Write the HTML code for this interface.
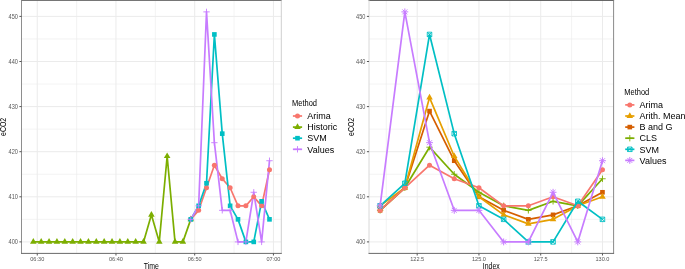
<!DOCTYPE html>
<html><head><meta charset="utf-8"><style>
html,body{margin:0;padding:0;background:#fff;}
body{width:685px;height:269px;overflow:hidden;}
svg{display:block;font-family:"Liberation Sans",sans-serif;will-change:transform;}
</style></head><body>
<svg width="685" height="269" viewBox="0 0 685 269">
<rect width="685" height="269" fill="#fff"/>
<g>
<line x1="21.5" x2="281.3" y1="219.35" y2="219.35" stroke="#EBEBEB" stroke-width="0.6"/>
<line x1="21.5" x2="281.3" y1="174.25" y2="174.25" stroke="#EBEBEB" stroke-width="0.6"/>
<line x1="21.5" x2="281.3" y1="129.15" y2="129.15" stroke="#EBEBEB" stroke-width="0.6"/>
<line x1="21.5" x2="281.3" y1="84.05" y2="84.05" stroke="#EBEBEB" stroke-width="0.6"/>
<line x1="21.5" x2="281.3" y1="38.95" y2="38.95" stroke="#EBEBEB" stroke-width="0.6"/>
<line x1="76.61" x2="76.61" y1="0.4" y2="253.4" stroke="#EBEBEB" stroke-width="0.6"/>
<line x1="155.34" x2="155.34" y1="0.4" y2="253.4" stroke="#EBEBEB" stroke-width="0.6"/>
<line x1="234.06" x2="234.06" y1="0.4" y2="253.4" stroke="#EBEBEB" stroke-width="0.6"/>
<line x1="21.5" x2="281.3" y1="241.9" y2="241.9" stroke="#EBEBEB" stroke-width="1"/>
<line x1="21.5" x2="281.3" y1="196.8" y2="196.8" stroke="#EBEBEB" stroke-width="1"/>
<line x1="21.5" x2="281.3" y1="151.7" y2="151.7" stroke="#EBEBEB" stroke-width="1"/>
<line x1="21.5" x2="281.3" y1="106.6" y2="106.6" stroke="#EBEBEB" stroke-width="1"/>
<line x1="21.5" x2="281.3" y1="61.5" y2="61.5" stroke="#EBEBEB" stroke-width="1"/>
<line x1="21.5" x2="281.3" y1="16.4" y2="16.4" stroke="#EBEBEB" stroke-width="1"/>
<line x1="37.25" x2="37.25" y1="0.4" y2="253.4" stroke="#EBEBEB" stroke-width="1"/>
<line x1="115.97" x2="115.97" y1="0.4" y2="253.4" stroke="#EBEBEB" stroke-width="1"/>
<line x1="194.7" x2="194.7" y1="0.4" y2="253.4" stroke="#EBEBEB" stroke-width="1"/>
<line x1="273.43" x2="273.43" y1="0.4" y2="253.4" stroke="#EBEBEB" stroke-width="1"/>
<polyline points="190.76,219.35 198.64,210.33 206.51,187.78 214.38,165.23 222.25,178.76 230.13,187.78 238,205.82 245.87,205.82 253.75,196.8 261.62,205.82 269.49,169.74" fill="none" stroke="#F8766D" stroke-width="1.7" stroke-linejoin="round" stroke-linecap="butt"/>
<polyline points="33.31,241.9 41.18,241.9 49.05,241.9 56.93,241.9 64.8,241.9 72.67,241.9 80.55,241.9 88.42,241.9 96.29,241.9 104.16,241.9 112.04,241.9 119.91,241.9 127.78,241.9 135.65,241.9 143.53,241.9 151.4,214.84 159.27,241.9 167.15,156.21 175.02,241.9 182.89,241.9 190.76,219.35" fill="none" stroke="#7CAE00" stroke-width="1.7" stroke-linejoin="round" stroke-linecap="butt"/>
<polyline points="190.76,219.35 198.64,205.82 206.51,183.27 214.38,34.44 222.25,133.66 230.13,205.82 238,219.35 245.87,241.9 253.75,241.9 261.62,201.31 269.49,219.35" fill="none" stroke="#00BFC4" stroke-width="1.7" stroke-linejoin="round" stroke-linecap="butt"/>
<polyline points="190.76,219.35 198.64,205.82 206.51,11.89 214.38,142.68 222.25,210.33 230.13,210.33 238,241.9 245.87,241.9 253.75,192.29 261.62,241.9 269.49,160.72" fill="none" stroke="#C77CFF" stroke-width="1.7" stroke-linejoin="round" stroke-linecap="butt"/>
<circle cx="190.76" cy="219.35" r="2.52" fill="#F8766D"/>
<circle cx="198.64" cy="210.33" r="2.52" fill="#F8766D"/>
<circle cx="206.51" cy="187.78" r="2.52" fill="#F8766D"/>
<circle cx="214.38" cy="165.23" r="2.52" fill="#F8766D"/>
<circle cx="222.25" cy="178.76" r="2.52" fill="#F8766D"/>
<circle cx="230.13" cy="187.78" r="2.52" fill="#F8766D"/>
<circle cx="238" cy="205.82" r="2.52" fill="#F8766D"/>
<circle cx="245.87" cy="205.82" r="2.52" fill="#F8766D"/>
<circle cx="253.75" cy="196.8" r="2.52" fill="#F8766D"/>
<circle cx="261.62" cy="205.82" r="2.52" fill="#F8766D"/>
<circle cx="269.49" cy="169.74" r="2.52" fill="#F8766D"/>
<polygon points="33.31,238.12 36.58,243.79 30.04,243.79" fill="#7CAE00"/>
<polygon points="41.18,238.12 44.45,243.79 37.91,243.79" fill="#7CAE00"/>
<polygon points="49.05,238.12 52.33,243.79 45.78,243.79" fill="#7CAE00"/>
<polygon points="56.93,238.12 60.2,243.79 53.65,243.79" fill="#7CAE00"/>
<polygon points="64.8,238.12 68.07,243.79 61.53,243.79" fill="#7CAE00"/>
<polygon points="72.67,238.12 75.95,243.79 69.4,243.79" fill="#7CAE00"/>
<polygon points="80.55,238.12 83.82,243.79 77.27,243.79" fill="#7CAE00"/>
<polygon points="88.42,238.12 91.69,243.79 85.15,243.79" fill="#7CAE00"/>
<polygon points="96.29,238.12 99.56,243.79 93.02,243.79" fill="#7CAE00"/>
<polygon points="104.16,238.12 107.44,243.79 100.89,243.79" fill="#7CAE00"/>
<polygon points="112.04,238.12 115.31,243.79 108.76,243.79" fill="#7CAE00"/>
<polygon points="119.91,238.12 123.18,243.79 116.64,243.79" fill="#7CAE00"/>
<polygon points="127.78,238.12 131.05,243.79 124.51,243.79" fill="#7CAE00"/>
<polygon points="135.65,238.12 138.93,243.79 132.38,243.79" fill="#7CAE00"/>
<polygon points="143.53,238.12 146.8,243.79 140.25,243.79" fill="#7CAE00"/>
<polygon points="151.4,211.06 154.67,216.73 148.13,216.73" fill="#7CAE00"/>
<polygon points="159.27,238.12 162.55,243.79 156,243.79" fill="#7CAE00"/>
<polygon points="167.15,152.43 170.42,158.1 163.87,158.1" fill="#7CAE00"/>
<polygon points="175.02,238.12 178.29,243.79 171.75,243.79" fill="#7CAE00"/>
<polygon points="182.89,238.12 186.16,243.79 179.62,243.79" fill="#7CAE00"/>
<polygon points="190.76,215.57 194.04,221.24 187.49,221.24" fill="#7CAE00"/>
<rect x="188.45" y="217.03" width="4.63" height="4.63" fill="#00BFC4"/>
<rect x="196.32" y="203.5" width="4.63" height="4.63" fill="#00BFC4"/>
<rect x="204.19" y="180.95" width="4.63" height="4.63" fill="#00BFC4"/>
<rect x="212.06" y="32.12" width="4.63" height="4.63" fill="#00BFC4"/>
<rect x="219.94" y="131.34" width="4.63" height="4.63" fill="#00BFC4"/>
<rect x="227.81" y="203.5" width="4.63" height="4.63" fill="#00BFC4"/>
<rect x="235.68" y="217.03" width="4.63" height="4.63" fill="#00BFC4"/>
<rect x="243.56" y="239.58" width="4.63" height="4.63" fill="#00BFC4"/>
<rect x="251.43" y="239.58" width="4.63" height="4.63" fill="#00BFC4"/>
<rect x="259.3" y="198.99" width="4.63" height="4.63" fill="#00BFC4"/>
<rect x="267.17" y="217.03" width="4.63" height="4.63" fill="#00BFC4"/>
<path d="M187.58 219.35H193.95M190.76 216.17V222.53" stroke="#C77CFF" stroke-width="0.9" fill="none"/>
<path d="M195.45 205.82H201.82M198.64 202.64V209" stroke="#C77CFF" stroke-width="0.9" fill="none"/>
<path d="M203.33 11.89H209.69M206.51 8.71V15.07" stroke="#C77CFF" stroke-width="0.9" fill="none"/>
<path d="M211.2 142.68H217.56M214.38 139.5V145.86" stroke="#C77CFF" stroke-width="0.9" fill="none"/>
<path d="M219.07 210.33H225.44M222.25 207.15V213.51" stroke="#C77CFF" stroke-width="0.9" fill="none"/>
<path d="M226.95 210.33H233.31M230.13 207.15V213.51" stroke="#C77CFF" stroke-width="0.9" fill="none"/>
<path d="M234.82 241.9H241.18M238 238.72V245.08" stroke="#C77CFF" stroke-width="0.9" fill="none"/>
<path d="M242.69 241.9H249.05M245.87 238.72V245.08" stroke="#C77CFF" stroke-width="0.9" fill="none"/>
<path d="M250.56 192.29H256.93M253.75 189.11V195.47" stroke="#C77CFF" stroke-width="0.9" fill="none"/>
<path d="M258.44 241.9H264.8M261.62 238.72V245.08" stroke="#C77CFF" stroke-width="0.9" fill="none"/>
<path d="M266.31 160.72H272.67M269.49 157.54V163.9" stroke="#C77CFF" stroke-width="0.9" fill="none"/>
<line x1="21" x2="281.8" y1="0.4" y2="0.4" stroke="#666666" stroke-width="1"/>
<line x1="281.3" x2="281.3" y1="0.4" y2="253.4" stroke="#cfcfcf" stroke-width="1"/>
<line x1="21.5" x2="21.5" y1="0.4" y2="253.4" stroke="#8e8e8e" stroke-width="1"/>
<line x1="21" x2="281.8" y1="253.4" y2="253.4" stroke="#6a6a6a" stroke-width="1"/>
<line x1="19.4" x2="21.5" y1="241.9" y2="241.9" stroke="#555555" stroke-width="1"/>
<text transform="translate(17.9 244.05) scale(1 1.14)" text-anchor="end" font-size="5.6" fill="#555555">400</text>
<line x1="19.4" x2="21.5" y1="196.8" y2="196.8" stroke="#555555" stroke-width="1"/>
<text transform="translate(17.9 198.95) scale(1 1.14)" text-anchor="end" font-size="5.6" fill="#555555">410</text>
<line x1="19.4" x2="21.5" y1="151.7" y2="151.7" stroke="#555555" stroke-width="1"/>
<text transform="translate(17.9 153.85) scale(1 1.14)" text-anchor="end" font-size="5.6" fill="#555555">420</text>
<line x1="19.4" x2="21.5" y1="106.6" y2="106.6" stroke="#555555" stroke-width="1"/>
<text transform="translate(17.9 108.75) scale(1 1.14)" text-anchor="end" font-size="5.6" fill="#555555">430</text>
<line x1="19.4" x2="21.5" y1="61.5" y2="61.5" stroke="#555555" stroke-width="1"/>
<text transform="translate(17.9 63.65) scale(1 1.14)" text-anchor="end" font-size="5.6" fill="#555555">440</text>
<line x1="19.4" x2="21.5" y1="16.4" y2="16.4" stroke="#555555" stroke-width="1"/>
<text transform="translate(17.9 18.55) scale(1 1.14)" text-anchor="end" font-size="5.6" fill="#555555">450</text>
<line x1="37.25" x2="37.25" y1="253.4" y2="255.5" stroke="#555555" stroke-width="1"/>
<text transform="translate(37.25 261.1) scale(1 1.03)" text-anchor="middle" font-size="5.6" fill="#555555">06:30</text>
<line x1="115.97" x2="115.97" y1="253.4" y2="255.5" stroke="#555555" stroke-width="1"/>
<text transform="translate(115.97 261.1) scale(1 1.03)" text-anchor="middle" font-size="5.6" fill="#555555">06:40</text>
<line x1="194.7" x2="194.7" y1="253.4" y2="255.5" stroke="#555555" stroke-width="1"/>
<text transform="translate(194.7 261.1) scale(1 1.03)" text-anchor="middle" font-size="5.6" fill="#555555">06:50</text>
<line x1="273.43" x2="273.43" y1="253.4" y2="255.5" stroke="#555555" stroke-width="1"/>
<text transform="translate(273.43 261.1) scale(1 1.03)" text-anchor="middle" font-size="5.6" fill="#555555">07:00</text>
<text transform="translate(151.4 268.8) scale(1 1.2)" text-anchor="middle" font-size="6.9" fill="#000">Time</text>
<text transform="translate(5.6 126.9) rotate(-90) scale(1 1.2)" text-anchor="middle" font-size="6.9" fill="#000">eCO2</text>
<text transform="translate(292 105.6) scale(1 1.1)" font-size="7.5" fill="#000">Method</text>
<line x1="292.9" x2="302.1" y1="116" y2="116" stroke="#F8766D" stroke-width="1.7"/>
<circle cx="297.5" cy="116" r="2.52" fill="#F8766D"/>
<text transform="translate(307.3 119.2) scale(1 1.1)" font-size="9" fill="#000">Arima</text>
<line x1="292.9" x2="302.1" y1="127.1" y2="127.1" stroke="#7CAE00" stroke-width="1.7"/>
<polygon points="297.5,123.32 300.77,128.99 294.23,128.99" fill="#7CAE00"/>
<text transform="translate(307.3 130.3) scale(1 1.1)" font-size="9" fill="#000">Historic</text>
<line x1="292.9" x2="302.1" y1="138.2" y2="138.2" stroke="#00BFC4" stroke-width="1.7"/>
<rect x="295.18" y="135.88" width="4.63" height="4.63" fill="#00BFC4"/>
<text transform="translate(307.3 141.4) scale(1 1.1)" font-size="9" fill="#000">SVM</text>
<line x1="292.9" x2="302.1" y1="149.3" y2="149.3" stroke="#C77CFF" stroke-width="1.7"/>
<path d="M294.32 149.3H300.68M297.5 146.12V152.48" stroke="#C77CFF" stroke-width="0.9" fill="none"/>
<text transform="translate(307.3 152.5) scale(1 1.1)" font-size="9" fill="#000">Values</text>
<line x1="369" x2="613.6" y1="219.35" y2="219.35" stroke="#EBEBEB" stroke-width="0.6"/>
<line x1="369" x2="613.6" y1="174.25" y2="174.25" stroke="#EBEBEB" stroke-width="0.6"/>
<line x1="369" x2="613.6" y1="129.15" y2="129.15" stroke="#EBEBEB" stroke-width="0.6"/>
<line x1="369" x2="613.6" y1="84.05" y2="84.05" stroke="#EBEBEB" stroke-width="0.6"/>
<line x1="369" x2="613.6" y1="38.95" y2="38.95" stroke="#EBEBEB" stroke-width="0.6"/>
<line x1="386.29" x2="386.29" y1="0.4" y2="253.4" stroke="#EBEBEB" stroke-width="0.6"/>
<line x1="448.06" x2="448.06" y1="0.4" y2="253.4" stroke="#EBEBEB" stroke-width="0.6"/>
<line x1="509.83" x2="509.83" y1="0.4" y2="253.4" stroke="#EBEBEB" stroke-width="0.6"/>
<line x1="571.6" x2="571.6" y1="0.4" y2="253.4" stroke="#EBEBEB" stroke-width="0.6"/>
<line x1="369" x2="613.6" y1="241.9" y2="241.9" stroke="#EBEBEB" stroke-width="1"/>
<line x1="369" x2="613.6" y1="196.8" y2="196.8" stroke="#EBEBEB" stroke-width="1"/>
<line x1="369" x2="613.6" y1="151.7" y2="151.7" stroke="#EBEBEB" stroke-width="1"/>
<line x1="369" x2="613.6" y1="106.6" y2="106.6" stroke="#EBEBEB" stroke-width="1"/>
<line x1="369" x2="613.6" y1="61.5" y2="61.5" stroke="#EBEBEB" stroke-width="1"/>
<line x1="369" x2="613.6" y1="16.4" y2="16.4" stroke="#EBEBEB" stroke-width="1"/>
<line x1="417.18" x2="417.18" y1="0.4" y2="253.4" stroke="#EBEBEB" stroke-width="1"/>
<line x1="478.95" x2="478.95" y1="0.4" y2="253.4" stroke="#EBEBEB" stroke-width="1"/>
<line x1="540.71" x2="540.71" y1="0.4" y2="253.4" stroke="#EBEBEB" stroke-width="1"/>
<line x1="602.48" x2="602.48" y1="0.4" y2="253.4" stroke="#EBEBEB" stroke-width="1"/>
<polyline points="380.12,210.33 404.83,187.78 429.53,111.11 454.24,160.72 478.95,196.8 503.65,210.33 528.36,219.35 553.07,214.84 577.77,205.82 602.48,192.29" fill="none" stroke="#D55E00" stroke-width="1.7" stroke-linejoin="round" stroke-linecap="butt"/>
<rect x="377.8" y="208.01" width="4.63" height="4.63" fill="#D55E00"/>
<rect x="402.51" y="185.46" width="4.63" height="4.63" fill="#D55E00"/>
<rect x="427.21" y="108.79" width="4.63" height="4.63" fill="#D55E00"/>
<rect x="451.92" y="158.4" width="4.63" height="4.63" fill="#D55E00"/>
<rect x="476.63" y="194.48" width="4.63" height="4.63" fill="#D55E00"/>
<rect x="501.34" y="208.01" width="4.63" height="4.63" fill="#D55E00"/>
<rect x="526.04" y="217.03" width="4.63" height="4.63" fill="#D55E00"/>
<rect x="550.75" y="212.52" width="4.63" height="4.63" fill="#D55E00"/>
<rect x="575.46" y="203.5" width="4.63" height="4.63" fill="#D55E00"/>
<rect x="600.16" y="189.97" width="4.63" height="4.63" fill="#D55E00"/>
<polyline points="380.12,205.82 404.83,187.78 429.53,97.58 454.24,156.21 478.95,196.8 503.65,214.84 528.36,223.86 553.07,219.35 577.77,205.82 602.48,196.8" fill="none" stroke="#E69F00" stroke-width="1.7" stroke-linejoin="round" stroke-linecap="butt"/>
<polygon points="380.12,202.04 383.39,207.71 376.85,207.71" fill="#E69F00"/>
<polygon points="404.83,184 408.1,189.67 401.55,189.67" fill="#E69F00"/>
<polygon points="429.53,93.8 432.81,99.47 426.26,99.47" fill="#E69F00"/>
<polygon points="454.24,152.43 457.51,158.1 450.97,158.1" fill="#E69F00"/>
<polygon points="478.95,193.02 482.22,198.69 475.67,198.69" fill="#E69F00"/>
<polygon points="503.65,211.06 506.93,216.73 500.38,216.73" fill="#E69F00"/>
<polygon points="528.36,220.08 531.63,225.75 525.09,225.75" fill="#E69F00"/>
<polygon points="553.07,215.57 556.34,221.24 549.79,221.24" fill="#E69F00"/>
<polygon points="577.77,202.04 581.05,207.71 574.5,207.71" fill="#E69F00"/>
<polygon points="602.48,193.02 605.75,198.69 599.21,198.69" fill="#E69F00"/>
<polyline points="380.12,210.33 404.83,187.78 429.53,147.19 454.24,174.25 478.95,192.29 503.65,205.82 528.36,210.33 553.07,201.31 577.77,205.82 602.48,178.76" fill="none" stroke="#7CAE00" stroke-width="1.7" stroke-linejoin="round" stroke-linecap="butt"/>
<path d="M376.94 210.33H383.3M380.12 207.15V213.51" stroke="#7CAE00" stroke-width="0.9" fill="none"/>
<path d="M401.64 187.78H408.01M404.83 184.6V190.96" stroke="#7CAE00" stroke-width="0.9" fill="none"/>
<path d="M426.35 147.19H432.71M429.53 144.01V150.37" stroke="#7CAE00" stroke-width="0.9" fill="none"/>
<path d="M451.06 174.25H457.42M454.24 171.07V177.43" stroke="#7CAE00" stroke-width="0.9" fill="none"/>
<path d="M475.76 192.29H482.13M478.95 189.11V195.47" stroke="#7CAE00" stroke-width="0.9" fill="none"/>
<path d="M500.47 205.82H506.84M503.65 202.64V209" stroke="#7CAE00" stroke-width="0.9" fill="none"/>
<path d="M525.18 210.33H531.54M528.36 207.15V213.51" stroke="#7CAE00" stroke-width="0.9" fill="none"/>
<path d="M549.89 201.31H556.25M553.07 198.13V204.49" stroke="#7CAE00" stroke-width="0.9" fill="none"/>
<path d="M574.59 205.82H580.96M577.77 202.64V209" stroke="#7CAE00" stroke-width="0.9" fill="none"/>
<path d="M599.3 178.76H605.66M602.48 175.58V181.94" stroke="#7CAE00" stroke-width="0.9" fill="none"/>
<polyline points="380.12,210.33 404.83,187.78 429.53,165.23 454.24,178.76 478.95,187.78 503.65,205.82 528.36,205.82 553.07,196.8 577.77,205.82 602.48,169.74" fill="none" stroke="#F8766D" stroke-width="1.7" stroke-linejoin="round" stroke-linecap="butt"/>
<circle cx="380.12" cy="210.33" r="2.52" fill="#F8766D"/>
<circle cx="404.83" cy="187.78" r="2.52" fill="#F8766D"/>
<circle cx="429.53" cy="165.23" r="2.52" fill="#F8766D"/>
<circle cx="454.24" cy="178.76" r="2.52" fill="#F8766D"/>
<circle cx="478.95" cy="187.78" r="2.52" fill="#F8766D"/>
<circle cx="503.65" cy="205.82" r="2.52" fill="#F8766D"/>
<circle cx="528.36" cy="205.82" r="2.52" fill="#F8766D"/>
<circle cx="553.07" cy="196.8" r="2.52" fill="#F8766D"/>
<circle cx="577.77" cy="205.82" r="2.52" fill="#F8766D"/>
<circle cx="602.48" cy="169.74" r="2.52" fill="#F8766D"/>
<polyline points="380.12,205.82 404.83,183.27 429.53,34.44 454.24,133.66 478.95,205.82 503.65,219.35 528.36,241.9 553.07,241.9 577.77,201.31 602.48,219.35" fill="none" stroke="#00BFC4" stroke-width="1.7" stroke-linejoin="round" stroke-linecap="butt"/>
<path d="M377.87 203.57h4.5v4.5h-4.5ZM377.87 203.57L382.37 208.07M377.87 208.07L382.37 203.57" stroke="#00BFC4" stroke-width="0.9" fill="none"/>
<path d="M402.58 181.02h4.5v4.5h-4.5ZM402.58 181.02L407.08 185.52M402.58 185.52L407.08 181.02" stroke="#00BFC4" stroke-width="0.9" fill="none"/>
<path d="M427.28 32.19h4.5v4.5h-4.5ZM427.28 32.19L431.78 36.69M427.28 36.69L431.78 32.19" stroke="#00BFC4" stroke-width="0.9" fill="none"/>
<path d="M451.99 131.41h4.5v4.5h-4.5ZM451.99 131.41L456.49 135.91M451.99 135.91L456.49 131.41" stroke="#00BFC4" stroke-width="0.9" fill="none"/>
<path d="M476.7 203.57h4.5v4.5h-4.5ZM476.7 203.57L481.2 208.07M476.7 208.07L481.2 203.57" stroke="#00BFC4" stroke-width="0.9" fill="none"/>
<path d="M501.4 217.1h4.5v4.5h-4.5ZM501.4 217.1L505.9 221.6M501.4 221.6L505.9 217.1" stroke="#00BFC4" stroke-width="0.9" fill="none"/>
<path d="M526.11 239.65h4.5v4.5h-4.5ZM526.11 239.65L530.61 244.15M526.11 244.15L530.61 239.65" stroke="#00BFC4" stroke-width="0.9" fill="none"/>
<path d="M550.82 239.65h4.5v4.5h-4.5ZM550.82 239.65L555.32 244.15M550.82 244.15L555.32 239.65" stroke="#00BFC4" stroke-width="0.9" fill="none"/>
<path d="M575.52 199.06h4.5v4.5h-4.5ZM575.52 199.06L580.02 203.56M575.52 203.56L580.02 199.06" stroke="#00BFC4" stroke-width="0.9" fill="none"/>
<path d="M600.23 217.1h4.5v4.5h-4.5ZM600.23 217.1L604.73 221.6M600.23 221.6L604.73 217.1" stroke="#00BFC4" stroke-width="0.9" fill="none"/>
<polyline points="380.12,205.82 404.83,11.89 429.53,142.68 454.24,210.33 478.95,210.33 503.65,241.9 528.36,241.9 553.07,192.29 577.77,241.9 602.48,160.72" fill="none" stroke="#C77CFF" stroke-width="1.7" stroke-linejoin="round" stroke-linecap="butt"/>
<path d="M377.69 203.39L382.55 208.25M377.69 208.25L382.55 203.39M376.68 205.82H383.55M380.12 202.38V209.26" stroke="#C77CFF" stroke-width="1" fill="none"/>
<path d="M402.4 9.46L407.26 14.32M402.4 14.32L407.26 9.46M401.39 11.89H408.26M404.83 8.45V15.33" stroke="#C77CFF" stroke-width="1" fill="none"/>
<path d="M427.1 140.25L431.96 145.11M427.1 145.11L431.96 140.25M426.1 142.68H432.97M429.53 139.24V146.12" stroke="#C77CFF" stroke-width="1" fill="none"/>
<path d="M451.81 207.9L456.67 212.76M451.81 212.76L456.67 207.9M450.8 210.33H457.68M454.24 206.89V213.77" stroke="#C77CFF" stroke-width="1" fill="none"/>
<path d="M476.52 207.9L481.38 212.76M476.52 212.76L481.38 207.9M475.51 210.33H482.38M478.95 206.89V213.77" stroke="#C77CFF" stroke-width="1" fill="none"/>
<path d="M501.22 239.47L506.08 244.33M501.22 244.33L506.08 239.47M500.22 241.9H507.09M503.65 238.46V245.34" stroke="#C77CFF" stroke-width="1" fill="none"/>
<path d="M525.93 239.47L530.79 244.33M525.93 244.33L530.79 239.47M524.92 241.9H531.8M528.36 238.46V245.34" stroke="#C77CFF" stroke-width="1" fill="none"/>
<path d="M550.64 189.86L555.5 194.72M550.64 194.72L555.5 189.86M549.63 192.29H556.5M553.07 188.85V195.73" stroke="#C77CFF" stroke-width="1" fill="none"/>
<path d="M575.34 239.47L580.2 244.33M575.34 244.33L580.2 239.47M574.34 241.9H581.21M577.77 238.46V245.34" stroke="#C77CFF" stroke-width="1" fill="none"/>
<path d="M600.05 158.29L604.91 163.15M600.05 163.15L604.91 158.29M599.05 160.72H605.92M602.48 157.28V164.16" stroke="#C77CFF" stroke-width="1" fill="none"/>
<line x1="368.5" x2="614.1" y1="0.4" y2="0.4" stroke="#555555" stroke-width="1"/>
<line x1="613.6" x2="613.6" y1="0.4" y2="253.4" stroke="#8a8a8a" stroke-width="1"/>
<line x1="369" x2="369" y1="0.4" y2="253.4" stroke="#d8d8d8" stroke-width="1"/>
<line x1="368.5" x2="614.1" y1="253.4" y2="253.4" stroke="#6a6a6a" stroke-width="1"/>
<line x1="366.9" x2="369" y1="241.9" y2="241.9" stroke="#555555" stroke-width="1"/>
<text transform="translate(365.4 244.05) scale(1 1.14)" text-anchor="end" font-size="5.6" fill="#555555">400</text>
<line x1="366.9" x2="369" y1="196.8" y2="196.8" stroke="#555555" stroke-width="1"/>
<text transform="translate(365.4 198.95) scale(1 1.14)" text-anchor="end" font-size="5.6" fill="#555555">410</text>
<line x1="366.9" x2="369" y1="151.7" y2="151.7" stroke="#555555" stroke-width="1"/>
<text transform="translate(365.4 153.85) scale(1 1.14)" text-anchor="end" font-size="5.6" fill="#555555">420</text>
<line x1="366.9" x2="369" y1="106.6" y2="106.6" stroke="#555555" stroke-width="1"/>
<text transform="translate(365.4 108.75) scale(1 1.14)" text-anchor="end" font-size="5.6" fill="#555555">430</text>
<line x1="366.9" x2="369" y1="61.5" y2="61.5" stroke="#555555" stroke-width="1"/>
<text transform="translate(365.4 63.65) scale(1 1.14)" text-anchor="end" font-size="5.6" fill="#555555">440</text>
<line x1="366.9" x2="369" y1="16.4" y2="16.4" stroke="#555555" stroke-width="1"/>
<text transform="translate(365.4 18.55) scale(1 1.14)" text-anchor="end" font-size="5.6" fill="#555555">450</text>
<line x1="417.18" x2="417.18" y1="253.4" y2="255.5" stroke="#555555" stroke-width="1"/>
<text transform="translate(417.18 261.1) scale(1 1.03)" text-anchor="middle" font-size="5.6" fill="#555555">122.5</text>
<line x1="478.95" x2="478.95" y1="253.4" y2="255.5" stroke="#555555" stroke-width="1"/>
<text transform="translate(478.95 261.1) scale(1 1.03)" text-anchor="middle" font-size="5.6" fill="#555555">125.0</text>
<line x1="540.71" x2="540.71" y1="253.4" y2="255.5" stroke="#555555" stroke-width="1"/>
<text transform="translate(540.71 261.1) scale(1 1.03)" text-anchor="middle" font-size="5.6" fill="#555555">127.5</text>
<line x1="602.48" x2="602.48" y1="253.4" y2="255.5" stroke="#555555" stroke-width="1"/>
<text transform="translate(602.48 261.1) scale(1 1.03)" text-anchor="middle" font-size="5.6" fill="#555555">130.0</text>
<text transform="translate(491.3 268.8) scale(1 1.2)" text-anchor="middle" font-size="6.9" fill="#000">Index</text>
<text transform="translate(353.5 126.9) rotate(-90) scale(1 1.2)" text-anchor="middle" font-size="6.9" fill="#000">eCO2</text>
<text transform="translate(624.3 94.7) scale(1 1.1)" font-size="7.5" fill="#000">Method</text>
<line x1="625.2" x2="634.4" y1="104.9" y2="104.9" stroke="#F8766D" stroke-width="1.7"/>
<circle cx="629.8" cy="104.9" r="2.52" fill="#F8766D"/>
<text transform="translate(639.6 108.1) scale(1 1.1)" font-size="9" fill="#000">Arima</text>
<line x1="625.2" x2="634.4" y1="116" y2="116" stroke="#E69F00" stroke-width="1.7"/>
<polygon points="629.8,112.22 633.07,117.89 626.53,117.89" fill="#E69F00"/>
<text transform="translate(639.6 119.2) scale(1 1.1)" font-size="9" fill="#000">Arith. Mean</text>
<line x1="625.2" x2="634.4" y1="127.1" y2="127.1" stroke="#D55E00" stroke-width="1.7"/>
<rect x="627.48" y="124.78" width="4.63" height="4.63" fill="#D55E00"/>
<text transform="translate(639.6 130.3) scale(1 1.1)" font-size="9" fill="#000">B and G</text>
<line x1="625.2" x2="634.4" y1="138.2" y2="138.2" stroke="#7CAE00" stroke-width="1.7"/>
<path d="M626.62 138.2H632.98M629.8 135.02V141.38" stroke="#7CAE00" stroke-width="0.9" fill="none"/>
<text transform="translate(639.6 141.4) scale(1 1.1)" font-size="9" fill="#000">CLS</text>
<line x1="625.2" x2="634.4" y1="149.3" y2="149.3" stroke="#00BFC4" stroke-width="1.7"/>
<path d="M627.55 147.05h4.5v4.5h-4.5ZM627.55 147.05L632.05 151.55M627.55 151.55L632.05 147.05" stroke="#00BFC4" stroke-width="0.9" fill="none"/>
<text transform="translate(639.6 152.5) scale(1 1.1)" font-size="9" fill="#000">SVM</text>
<line x1="625.2" x2="634.4" y1="160.4" y2="160.4" stroke="#C77CFF" stroke-width="1.7"/>
<path d="M627.37 157.97L632.23 162.83M627.37 162.83L632.23 157.97M626.36 160.4H633.24M629.8 156.96V163.84" stroke="#C77CFF" stroke-width="1" fill="none"/>
<text transform="translate(639.6 163.6) scale(1 1.1)" font-size="9" fill="#000">Values</text>
</g>
</svg>
</body></html>
